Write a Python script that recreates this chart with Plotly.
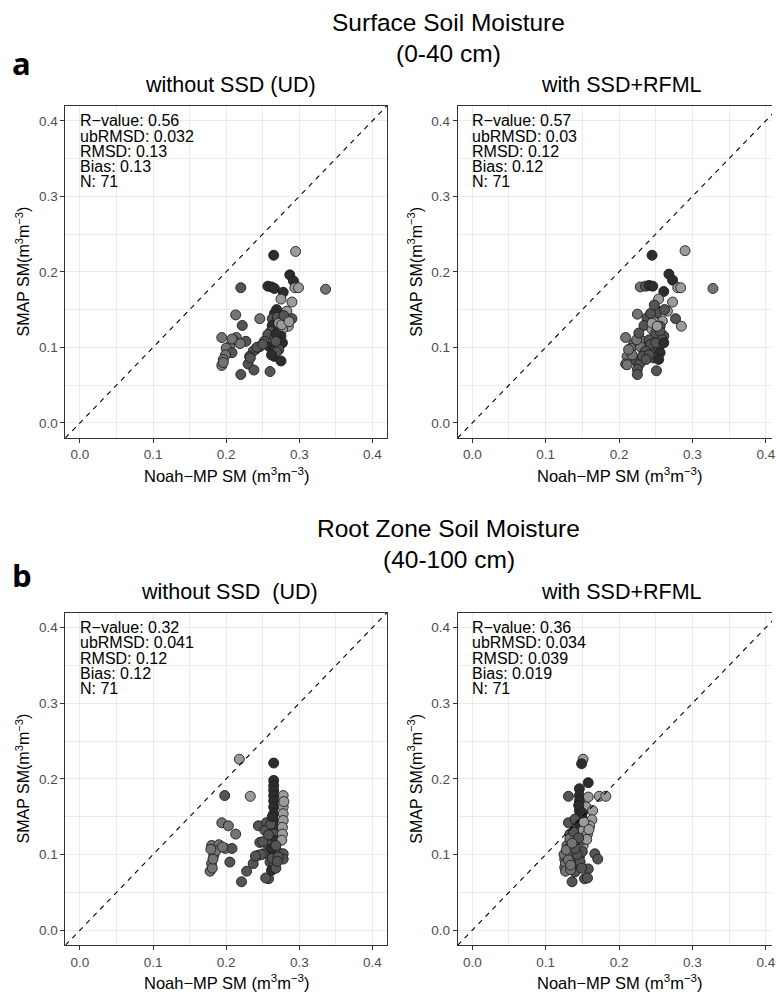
import plotly.graph_objects as go

# ---------------- data ----------------
# tone: 0 = darkest grey fill, 1 = lightest grey fill
surf_ud_x = [0.265, 0.295, 0.287, 0.292, 0.220, 0.257, 0.262, 0.266, 0.278, 0.294,
             0.299, 0.336, 0.275, 0.290, 0.269, 0.266, 0.283, 0.213, 0.246, 0.290,
             0.263, 0.271, 0.273, 0.285, 0.222, 0.263, 0.277, 0.261, 0.257, 0.275,
             0.266, 0.252, 0.277, 0.194, 0.214, 0.210, 0.227, 0.205, 0.200, 0.246,
             0.241, 0.237, 0.259, 0.266, 0.272, 0.208, 0.199, 0.196, 0.194, 0.232,
             0.230, 0.266, 0.275, 0.238, 0.260, 0.220, 0.269, 0.233, 0.242, 0.250,
             0.268, 0.270, 0.272, 0.276, 0.268, 0.262, 0.219, 0.208, 0.196, 0.279,
             0.286]
surf_ud_y = [0.222, 0.227, 0.196, 0.188, 0.179, 0.181, 0.180, 0.178, 0.173, 0.179,
             0.179, 0.177, 0.164, 0.160, 0.150, 0.145, 0.148, 0.143, 0.138, 0.138,
             0.138, 0.138, 0.129, 0.128, 0.129, 0.129, 0.124, 0.121, 0.117, 0.115,
             0.113, 0.108, 0.106, 0.113, 0.113, 0.110, 0.108, 0.102, 0.099, 0.101,
             0.098, 0.095, 0.101, 0.099, 0.097, 0.093, 0.090, 0.084, 0.076, 0.088,
             0.078, 0.088, 0.082, 0.070, 0.068, 0.064, 0.094, 0.086, 0.100, 0.104,
             0.118, 0.140, 0.132, 0.130, 0.108, 0.090, 0.105, 0.111, 0.080, 0.142,
             0.134]
surf_ud_tone = [0.05, 0.9, 0.05, 0.05, 0.35, 0.05, 0.05, 0.05, 0.05, 0.9,
                0.9, 0.6, 0.9, 0.9, 0.05, 0.05, 0.9, 0.6, 0.6, 0.35,
                0.35, 0.9, 0.9, 0.9, 0.35, 0.05, 0.9, 0.35, 0.35, 0.05,
                0.35, 0.35, 0.05, 0.6, 0.6, 0.6, 0.35, 0.6, 0.6, 0.35,
                0.35, 0.35, 0.05, 0.05, 0.35, 0.35, 0.6, 0.6, 0.6, 0.35,
                0.35, 0.05, 0.05, 0.35, 0.35, 0.35, 0.35, 0.35, 0.35, 0.35,
                0.05, 0.35, 0.9, 0.9, 0.35, 0.05, 0.6, 0.6, 0.6, 0.35,
                0.9]

surf_rf_x = [0.245, 0.290, 0.268, 0.273, 0.229, 0.236, 0.241, 0.246, 0.261, 0.280,
             0.284, 0.328, 0.254, 0.273, 0.250, 0.266, 0.225, 0.277, 0.238, 0.247,
             0.249, 0.259, 0.234, 0.285, 0.245, 0.256, 0.261, 0.252, 0.209, 0.227,
             0.232, 0.220, 0.216, 0.238, 0.245, 0.254, 0.256, 0.234, 0.211, 0.209,
             0.223, 0.228, 0.247, 0.254, 0.225, 0.225, 0.251, 0.241, 0.243, 0.229,
             0.224, 0.250, 0.256, 0.247, 0.252, 0.243, 0.236, 0.218, 0.213, 0.232,
             0.241, 0.259, 0.250, 0.245, 0.252, 0.227, 0.211, 0.237, 0.261, 0.248,
             0.262]
surf_rf_y = [0.222, 0.228, 0.197, 0.189, 0.180, 0.181, 0.182, 0.181, 0.174, 0.179,
             0.179, 0.178, 0.164, 0.160, 0.150, 0.148, 0.144, 0.138, 0.139, 0.141,
             0.132, 0.135, 0.129, 0.128, 0.124, 0.128, 0.115, 0.113, 0.113, 0.113,
             0.108, 0.104, 0.099, 0.101, 0.097, 0.099, 0.093, 0.093, 0.088, 0.078,
             0.082, 0.078, 0.086, 0.084, 0.071, 0.064, 0.069, 0.110, 0.104, 0.101,
             0.110, 0.119, 0.121, 0.135, 0.146, 0.145, 0.095, 0.090, 0.097, 0.088,
             0.090, 0.110, 0.106, 0.132, 0.128, 0.119, 0.077, 0.084, 0.106, 0.156,
             0.150]
surf_rf_tone = [0.05, 0.9, 0.05, 0.05, 0.6, 0.35, 0.05, 0.05, 0.05, 0.9,
                0.9, 0.6, 0.9, 0.9, 0.05, 0.9, 0.6, 0.35, 0.35, 0.9,
                0.9, 0.9, 0.35, 0.9, 0.9, 0.35, 0.35, 0.35, 0.6, 0.6,
                0.6, 0.6, 0.6, 0.35, 0.35, 0.35, 0.05, 0.35, 0.6, 0.6,
                0.35, 0.35, 0.35, 0.05, 0.35, 0.35, 0.35, 0.35, 0.35, 0.6,
                0.6, 0.35, 0.35, 0.9, 0.35, 0.35, 0.35, 0.6, 0.6, 0.35,
                0.35, 0.35, 0.35, 0.9, 0.9, 0.35, 0.6, 0.35, 0.05, 0.35,
                0.35]

root_ud_x = [0.218, 0.265, 0.198, 0.233, 0.278, 0.265, 0.265, 0.265, 0.265, 0.265,
             0.265, 0.265, 0.265, 0.265, 0.265, 0.265, 0.265, 0.265, 0.278, 0.278,
             0.278, 0.277, 0.277, 0.276, 0.194, 0.203, 0.213, 0.244, 0.255, 0.253,
             0.246, 0.256, 0.271, 0.278, 0.278, 0.180, 0.190, 0.199, 0.208, 0.183,
             0.180, 0.178, 0.186, 0.205, 0.244, 0.251, 0.237, 0.228, 0.221, 0.258,
             0.254, 0.260, 0.265, 0.262, 0.268, 0.181, 0.182, 0.179, 0.195, 0.250,
             0.258, 0.248, 0.240, 0.263, 0.271, 0.262, 0.261, 0.263, 0.279, 0.270,
             0.268]
root_ud_y = [0.226, 0.221, 0.178, 0.177, 0.178, 0.198, 0.191, 0.185, 0.178, 0.171,
             0.163, 0.154, 0.145, 0.136, 0.127, 0.119, 0.110, 0.101, 0.163, 0.154,
             0.145, 0.136, 0.127, 0.119, 0.142, 0.138, 0.127, 0.138, 0.142, 0.132,
             0.116, 0.114, 0.103, 0.101, 0.094, 0.112, 0.113, 0.108, 0.108, 0.099,
             0.088, 0.078, 0.105, 0.090, 0.099, 0.101, 0.088, 0.078, 0.064, 0.068,
             0.069, 0.090, 0.086, 0.079, 0.082, 0.082, 0.094, 0.107, 0.110, 0.117,
             0.126, 0.100, 0.098, 0.095, 0.097, 0.108, 0.140, 0.150, 0.170, 0.091,
             0.112]
root_ud_tone = [0.9, 0.05, 0.35, 0.9, 0.9, 0.05, 0.05, 0.05, 0.05, 0.05,
                0.05, 0.05, 0.05, 0.05, 0.35, 0.05, 0.35, 0.05, 0.9, 0.9,
                0.9, 0.9, 0.9, 0.9, 0.6, 0.6, 0.6, 0.35, 0.35, 0.35,
                0.35, 0.35, 0.35, 0.35, 0.35, 0.6, 0.6, 0.6, 0.35, 0.6,
                0.6, 0.6, 0.6, 0.35, 0.35, 0.35, 0.35, 0.35, 0.35, 0.35,
                0.35, 0.35, 0.35, 0.05, 0.35, 0.6, 0.6, 0.6, 0.6, 0.35,
                0.35, 0.35, 0.35, 0.35, 0.35, 0.05, 0.35, 0.05, 0.9, 0.35,
                0.35]

root_rf_x = [0.151, 0.149, 0.158, 0.146, 0.131, 0.146, 0.158, 0.173, 0.182, 0.146,
             0.155, 0.146, 0.164, 0.149, 0.163, 0.131, 0.144, 0.153, 0.155, 0.153,
             0.142, 0.142, 0.133, 0.129, 0.129, 0.126, 0.126, 0.135, 0.138, 0.144,
             0.144, 0.146, 0.144, 0.167, 0.171, 0.158, 0.140, 0.153, 0.157, 0.136,
             0.151, 0.149, 0.160, 0.140, 0.133, 0.131, 0.125, 0.141, 0.127, 0.127,
             0.134, 0.148, 0.147, 0.151, 0.157, 0.156, 0.150, 0.147, 0.128, 0.131,
             0.134, 0.149, 0.143, 0.140, 0.152, 0.145, 0.150, 0.138, 0.159, 0.145,
             0.136]
root_rf_y = [0.226, 0.220, 0.195, 0.187, 0.177, 0.178, 0.176, 0.177, 0.177, 0.171,
             0.163, 0.158, 0.158, 0.149, 0.146, 0.142, 0.141, 0.136, 0.130, 0.123,
             0.134, 0.125, 0.127, 0.112, 0.103, 0.094, 0.083, 0.099, 0.086, 0.114,
             0.105, 0.097, 0.088, 0.101, 0.094, 0.081, 0.077, 0.068, 0.069, 0.064,
             0.112, 0.119, 0.138, 0.147, 0.121, 0.108, 0.100, 0.095, 0.088, 0.078,
             0.080, 0.128, 0.140, 0.132, 0.127, 0.120, 0.104, 0.090, 0.106, 0.093,
             0.086, 0.082, 0.100, 0.108, 0.143, 0.165, 0.155, 0.130, 0.133, 0.122,
             0.115]
root_rf_tone = [0.9, 0.05, 0.05, 0.05, 0.35, 0.05, 0.9, 0.9, 0.9, 0.05,
                0.9, 0.05, 0.9, 0.05, 0.9, 0.35, 0.35, 0.9, 0.9, 0.9,
                0.35, 0.35, 0.35, 0.6, 0.6, 0.6, 0.6, 0.6, 0.6, 0.35,
                0.35, 0.35, 0.35, 0.35, 0.35, 0.35, 0.35, 0.35, 0.35, 0.35,
                0.9, 0.35, 0.9, 0.35, 0.6, 0.6, 0.6, 0.35, 0.6, 0.6,
                0.6, 0.35, 0.05, 0.9, 0.9, 0.9, 0.35, 0.35, 0.6, 0.6,
                0.6, 0.35, 0.35, 0.35, 0.9, 0.05, 0.05, 0.35, 0.9, 0.35,
                0.6]

stat_names = ["R\u2212value", "ubRMSD", "RMSD", "Bias", "N"]
stats_surf_ud = ["0.56", "0.032", "0.13", "0.13", "71"]
stats_surf_rf = ["0.57", "0.03", "0.12", "0.12", "71"]
stats_root_ud = ["0.32", "0.041", "0.12", "0.12", "71"]
stats_root_rf = ["0.36", "0.034", "0.039", "0.019", "71"]

tick_vals = [0.0, 0.1, 0.2, 0.3, 0.4]
tick_text = ["0.0", "0.1", "0.2", "0.3", "0.4"]
minor_vals = [0.05, 0.15, 0.25, 0.35]
one_to_one = [-0.02, 0.42]

# ---------------- layout geometry (px) ----------------
W, H = 776, 992
FONT = "Liberation Sans"

def px_x(v):
    return v / W

def px_y(v):
    return 1 - v / H

panels = [
    # (xs, ys, tones, stats, x-domain px, y-domain px, x range, right side clipped)
    (surf_ud_x, surf_ud_y, surf_ud_tone, stats_surf_ud, (65.7, 389.0), (105.7, 438.0), [-0.02, 0.42], False),
    (surf_rf_x, surf_rf_y, surf_rf_tone, stats_surf_rf, (460.0, 776.0), (105.7, 438.0), [-0.02, 0.4085], True),
    (root_ud_x, root_ud_y, root_ud_tone, stats_root_ud, (65.7, 389.0), (612.5, 945.3), [-0.02, 0.42], False),
    (root_rf_x, root_rf_y, root_rf_tone, stats_root_rf, (460.0, 776.0), (612.5, 945.3), [-0.02, 0.4085], True),
]

fig = go.Figure()
annotations = []

grey_scale = [[0.0, "#262626"], [1.0, "#a8a8a8"]]

for i, (xs, ys, tones, stats, xd, yd, xr, clipped) in enumerate(panels):
    n = "" if i == 0 else str(i + 1)
    xa, ya = "x" + n, "y" + n

    fig.add_trace(go.Scatter(
        x=xs, y=ys, mode="markers", xaxis=xa, yaxis=ya, showlegend=False,
        marker=dict(size=10, color=tones, colorscale=grey_scale, cmin=0, cmax=1,
                    line=dict(color="#1e1e1e", width=0.9)),
        hoverinfo="skip",
    ))
    fig.add_trace(go.Scatter(
        x=one_to_one, y=one_to_one, mode="lines", xaxis=xa, yaxis=ya, showlegend=False,
        line=dict(color="black", width=1.1, dash="5px,5px"), hoverinfo="skip",
    ))

    common = dict(
        tickmode="array", tickvals=tick_vals, ticktext=tick_text,
        ticks="outside", ticklen=4, tickwidth=1, tickcolor="#333333",
        tickfont=dict(family=FONT, size=13.5, color="#4d4d4d"),
        ticklabeloverflow="allow",
        showgrid=True, gridcolor="#ebebeb", gridwidth=1.2,
        minor=dict(tickmode="array", tickvals=minor_vals, showgrid=True,
                   gridcolor="#ebebeb", gridwidth=0.6, ticks=""),
        showline=True, linecolor="#333333", linewidth=1,
        zeroline=False, fixedrange=True,
    )
    fig.layout["xaxis" + n] = dict(common, domain=[px_x(xd[0]), px_x(xd[1])], range=xr,
                                   anchor=ya, mirror=True)
    fig.layout["yaxis" + n] = dict(common, domain=[px_y(yd[1]), px_y(yd[0])],
                                   range=[-0.02, 0.42], anchor=xa,
                                   mirror=(not clipped))

    # statistics block in the upper-left corner of each panel
    for k, (name, val) in enumerate(zip(stat_names, stats)):
        annotations.append(dict(
            x=0.0, y=0.4, xref=xa, yref=ya, xanchor="left", yanchor="middle",
            yshift=-15.2 * k, xshift=-2, showarrow=False,
            text=f"{name}: {val}", font=dict(family=FONT, size=16, color="black"),
        ))

    # axis titles
    xcen = xd[0] + 162.8
    ycen = (yd[0] + yd[1]) / 2
    annotations.append(dict(
        x=px_x(xcen), y=px_y(yd[1] + 37), xref="paper", yref="paper",
        xanchor="center", yanchor="middle", showarrow=False,
        text="Noah\u2212MP SM (m<sup>3</sup>m<sup>\u22123</sup>)",
        font=dict(family=FONT, size=16.5, color="black"),
    ))
    annotations.append(dict(
        x=px_x(xd[0] - 43), y=px_y(ycen), xref="paper", yref="paper",
        xanchor="center", yanchor="middle", showarrow=False, textangle=-90,
        text="SMAP SM(m<sup>3</sup>m<sup>\u22123</sup>)",
        font=dict(family=FONT, size=16, color="black"),
    ))

# panel subtitles
subtitles = [("without SSD (UD)", 232, 85), ("with SSD+RFML", 625, 85),
             ("without SSD\u00a0\u00a0(UD)", 231, 591.7), ("with SSD+RFML", 625, 591.7)]
for text, cx, cy in subtitles:
    annotations.append(dict(
        x=px_x(cx), y=px_y(cy), xref="paper", yref="paper", xanchor="center",
        yanchor="middle", showarrow=False, text=text,
        font=dict(family=FONT, size=21.5, color="black"),
    ))

# row titles
row_titles = [("Surface Soil Moisture", 22), ("(0-40 cm)", 53),
              ("Root Zone Soil Moisture", 528), ("(40-100 cm)", 559)]
for text, cy in row_titles:
    annotations.append(dict(
        x=px_x(451), y=px_y(cy), xref="paper", yref="paper", xanchor="center",
        yanchor="middle", showarrow=False, text=text,
        font=dict(family=FONT, size=24.5, color="black"),
    ))

# panel letters
for text, cy in [("a", 63), ("b", 575)]:
    annotations.append(dict(
        x=px_x(10), y=px_y(cy), xref="paper", yref="paper", xanchor="left",
        yanchor="middle", showarrow=False, text=f"<b>{text}</b>",
        font=dict(family="Open Sans", size=31, color="black"),
    ))

fig.update_layout(
    width=W, height=H, autosize=False,
    margin=dict(l=0, r=0, t=0, b=0),
    paper_bgcolor="white", plot_bgcolor="white",
    annotations=annotations,
)

fig.write_html("out.html", config={"displayModeBar": False})
